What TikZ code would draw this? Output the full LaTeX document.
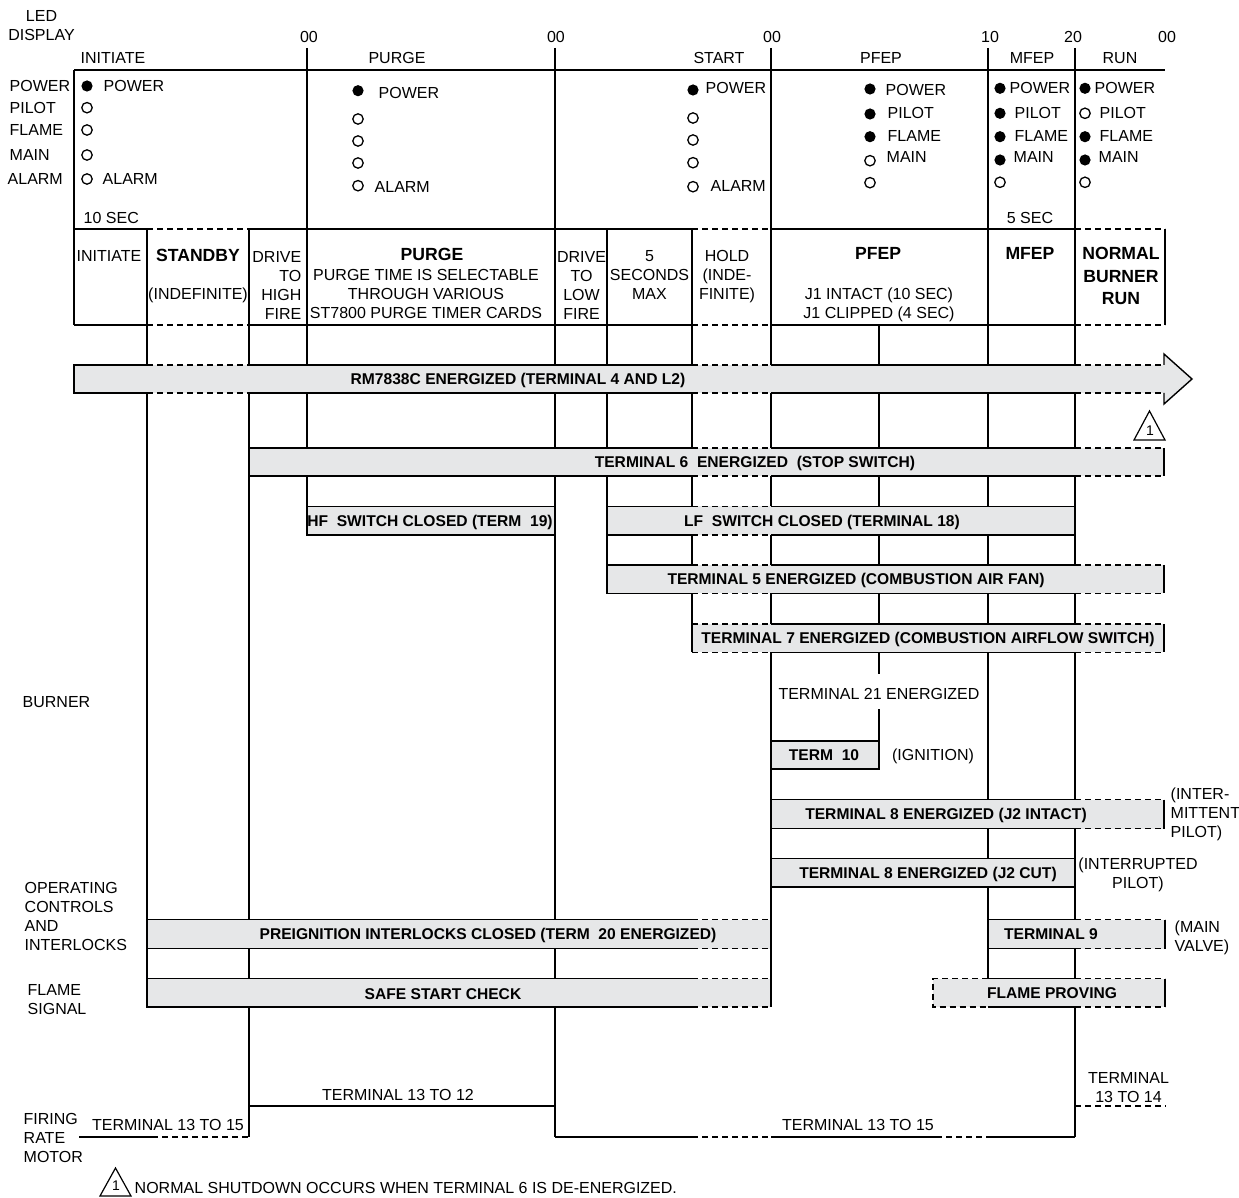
\documentclass[tikz,border=0pt]{standalone}
\usepackage{fontspec}
\setmainfont{Liberation Sans}
\definecolor{barfill}{HTML}{E6E7E8}

\begin{document}
\begin{tikzpicture}[
  x=0.5pt, y=-0.5pt,
  line width=0.7pt,
  txt/.style={font=\fontsize{8}{9.6}\selectfont, inner sep=0pt, text depth=0pt},
  ttxt/.style={font=\fontsize{8}{9.6}\selectfont, inner sep=0pt, align=center, anchor=north},
  btxt/.style={font=\fontsize{7.8}{9}\selectfont\bfseries, inner sep=0pt, text depth=0pt},
  htxt/.style={font=\fontsize{8.8}{11.2}\selectfont\bfseries, inner sep=0pt, text depth=0pt},
  dsh/.style={dash pattern=on 3pt off 2pt},
  ledon/.style={fill=black},
  ledoff/.style={draw=black, line width=0.65pt},
]
\useasboundingbox (0,0) rectangle (1239,1198);

% 时间刻度与阶段
\node[ttxt] (led) at (41.5,9.5) {LED\\DISPLAY};
\node[txt] (tick0) at (309,37) {00};
\node[txt] (tick1) at (556,37) {00};
\node[txt] (tick2) at (772,37) {00};
\node[txt] (tick3) at (990,37) {10};
\node[txt] (tick4) at (1073,37) {20};
\node[txt] (tick5) at (1167,37) {00};
\node[txt, anchor=west] (phinit) at (80,57.5) {INITIATE};
\node[txt] (phpurge) at (397,57.5) {PURGE};
\node[txt] (phstart) at (719,57.5) {START};
\node[txt] (phpfep) at (881,57.5) {PFEP};
\node[txt] (phmfep) at (1032,57.5) {MFEP};
\node[txt] (phrun) at (1120,57.5) {RUN};

% 网格竖线
\draw (74,70) -- (1165,70);
\draw (74,70) -- (74,325);
\draw (307,48) -- (307,506.5);
\draw (555,48) -- (555,1137);
\draw (771,48) -- (771,1007);
\draw (988,48) -- (988,978.5);
\draw (1075,48) -- (1075,1137);
\draw (147,229) -- (147,978.5);
\draw (249,229) -- (249,1137);
\draw (607,229) -- (607,593.5);
\draw (692,229) -- (692,652.5);
\draw (1165,229) -- (1165,325);
\draw (879,325) -- (879,674) (879,709) -- (879,741);

% 顺序表上下边 (虚线 = 不定时段)
\draw (74,229) -- (147,229) (249,229) -- (692,229) (771,229) -- (1075,229);
\draw (74,325) -- (147,325) (249,325) -- (692,325) (771,325) -- (1075,325);
\draw[dsh] (147,229) -- (249,229) (692,229) -- (771,229) (1075,229) -- (1165,229);
\draw[dsh] (147,325) -- (249,325) (692,325) -- (771,325) (1075,325) -- (1165,325);

% LED 指示
\node[txt, anchor=west] (lpower) at (9,86) {POWER};
\node[txt, anchor=west] (lpilot) at (9,107.7) {PILOT};
\node[txt, anchor=west] (lflame) at (9,130) {FLAME};
\node[txt, anchor=west] (lmain) at (9,155) {MAIN};
\node[txt, anchor=west] (lalarm) at (7,179) {ALARM};

% INITIATE
\fill[ledon] (87,86) circle (2.8pt);
\draw[ledoff] (87,107.7) circle (2.6pt) (87,130) circle (2.6pt) (87,155) circle (2.6pt) (87,179) circle (2.6pt);
\node[txt, anchor=west] (ipower) at (103,86) {POWER};
\node[txt, anchor=west] (ialarm) at (102,179) {ALARM};
% PURGE
\fill[ledon] (358,90.7) circle (2.8pt);
\draw[ledoff] (358,119) circle (2.6pt) (358,141) circle (2.6pt) (358,163) circle (2.6pt) (358,185.7) circle (2.6pt);
\node[txt, anchor=west] (ppower) at (378,92.7) {POWER};
\node[txt, anchor=west] (palarm) at (374,186.7) {ALARM};
% START
\fill[ledon] (693,90) circle (2.8pt);
\draw[ledoff] (693,118) circle (2.6pt) (693,140) circle (2.6pt) (693,162.7) circle (2.6pt) (693,186.7) circle (2.6pt);
\node[txt, anchor=west] (spower) at (705,88) {POWER};
\node[txt, anchor=west] (salarm) at (710,186) {ALARM};
% PFEP
\fill[ledon] (870,89) circle (2.8pt) (870,114) circle (2.8pt) (870,136.7) circle (2.8pt);
\draw[ledoff] (870,160.7) circle (2.6pt) (870,182.7) circle (2.6pt);
\node[txt, anchor=west] (fpower) at (885,90) {POWER};
\node[txt, anchor=west] (fpilot) at (887,112.7) {PILOT};
\node[txt, anchor=west] (fflame) at (887,136) {FLAME};
\node[txt, anchor=west] (fmain) at (886,156.7) {MAIN};
% MFEP
\fill[ledon] (1000,88.3) circle (2.8pt) (1000,113.3) circle (2.8pt) (1000,136.7) circle (2.8pt) (1000,160) circle (2.8pt);
\draw[ledoff] (1000,182.3) circle (2.6pt);
\node[txt, anchor=west] (mpower) at (1009,88.3) {POWER};
\node[txt, anchor=west] (mpilot) at (1014,112.7) {PILOT};
\node[txt, anchor=west] (mflame) at (1014,136) {FLAME};
\node[txt, anchor=west] (mmain) at (1013,156.7) {MAIN};
% RUN
\fill[ledon] (1085,88.3) circle (2.8pt) (1085,136.7) circle (2.8pt) (1085,160) circle (2.8pt);
\draw[ledoff] (1085,113.3) circle (2.6pt) (1085,182.3) circle (2.6pt);
\node[txt, anchor=west] (rpower) at (1094,88.3) {POWER};
\node[txt, anchor=west] (rpilot) at (1099,112.7) {PILOT};
\node[txt, anchor=west] (rflame) at (1099,136) {FLAME};
\node[txt, anchor=west] (rmain) at (1098,156.7) {MAIN};

\node[txt, anchor=west] (tensec) at (83,217.7) {10 SEC};
\node[txt] (fivesec) at (1030,217.7) {5 SEC};

% 顺序表内容
\node[txt] (cinit) at (109,256) {INITIATE};
\node[htxt] (cstandby) at (198,255) {STANDBY};
\node[txt] (cindef) at (198,294) {(INDEFINITE)};
\node[ttxt, align=right, anchor=north east] (chigh) at (302,250.3) {DRIVE\\TO\\HIGH\\FIRE};
\node[htxt] (cpurge) at (432,254) {PURGE};
\node[ttxt] (cpurgetxt) at (426,268.3) {PURGE TIME IS SELECTABLE\\THROUGH VARIOUS\\ST7800 PURGE TIMER CARDS};
\node[ttxt] (clow) at (581.5,250.3) {DRIVE\\TO\\LOW\\FIRE};
\node[ttxt] (cfive) at (649.5,249.3) {5\\SECONDS\\MAX};
\node[ttxt] (chold) at (727,249.3) {HOLD\\(INDE-\\FINITE)};
\node[htxt] (cpfep) at (878,253) {PFEP};
\node[ttxt] (cj1) at (879,287.3) {J1 INTACT (10 SEC)\\J1 CLIPPED (4 SEC)};
\node[htxt] (cmfep) at (1030,253) {MFEP};
\node[htxt, align=center, anchor=north, text depth=] (crun) at (1121,246.7) {NORMAL\\BURNER\\RUN};

% RM7838C 通电箭头
\fill[barfill] (74,365) rectangle (1164,393);
\fill[barfill] (1164,354) -- (1192,379) -- (1164,404) -- cycle;
\draw (147,365) -- (74,365) -- (74,393) -- (147,393);
\draw (249,365) -- (692,365) (249,393) -- (692,393) (771,365) -- (1075,365) (771,393) -- (1075,393);
\draw[dsh] (147,365) -- (249,365) (147,393) -- (249,393) (692,365) -- (771,365) (692,393) -- (771,393)
  (1075,365) -- (1164,365) (1075,393) -- (1164,393);
\draw (1164,365) -- (1164,354) -- (1192,379) -- (1164,404) -- (1164,393);
\node[btxt] (brm) at (518,379) {RM7838C ENERGIZED (TERMINAL 4 AND L2)};

% 注 1
\draw[line width=0.6pt] (1134,440) -- (1149.5,411) -- (1165,440) -- cycle;
\node[txt, font=\fontsize{7}{8}\selectfont] (note1a) at (1150,431) {1};

% 端子 6
\fill[barfill] (249,448) rectangle (1164,476);
\draw (692,448) -- (249,448) -- (249,476) -- (692,476);
\draw (771,448) -- (1075,448) (771,476) -- (1075,476);
\draw[dsh] (692,448) -- (771,448) (692,476) -- (771,476) (1075,448) -- (1164,448) (1075,476) -- (1164,476);
\draw (1164,448) -- (1164,476);
\node[btxt] (bt6) at (755,462) {TERMINAL 6\ \ ENERGIZED\ \ (STOP SWITCH)};

% HF / LF 开关
\draw[fill=barfill] (307,506.5) rectangle (555,535);
\node[btxt] (bhf) at (430,521) {HF\ \ SWITCH CLOSED (TERM\ \ 19)};
\fill[barfill] (607,506.5) rectangle (1075,535);
\draw (692,506.5) -- (607,506.5) -- (607,535) -- (692,535);
\draw (771,506.5) -- (1075,506.5) -- (1075,535) -- (771,535);
\draw[dsh] (692,506.5) -- (771,506.5) (692,535) -- (771,535);
\node[btxt] (blf) at (822,520.5) {LF\ \ SWITCH CLOSED (TERMINAL 18)};

% 端子 5
\fill[barfill] (607,565) rectangle (1164,593.5);
\draw (692,565) -- (607,565) -- (607,593.5) -- (692,593.5);
\draw (771,565) -- (1075,565) (771,593.5) -- (1075,593.5);
\draw[dsh] (692,565) -- (771,565) (692,593.5) -- (771,593.5) (1075,565) -- (1164,565) (1075,593.5) -- (1164,593.5);
\draw (1164,565) -- (1164,593.5);
\node[btxt] (bt5) at (856,579) {TERMINAL 5 ENERGIZED (COMBUSTION AIR FAN)};

% 端子 7
\fill[barfill] (692,624) rectangle (1164,652.5);
\draw (692,624) -- (692,652.5);
\draw (771,624) -- (1075,624) (771,652.5) -- (1075,652.5);
\draw[dsh] (692,624) -- (771,624) (692,652.5) -- (771,652.5) (1075,624) -- (1164,624) (1075,652.5) -- (1164,652.5);
\draw (1164,624) -- (1164,652.5);
\node[btxt] (bt7) at (928,638) {TERMINAL 7 ENERGIZED (COMBUSTION AIRFLOW SWITCH)};

% 端子 21 / 10
\node[txt] (t21) at (879,694) {TERMINAL 21 ENERGIZED};
\draw[fill=barfill] (771,741) rectangle (879,769);
\node[btxt] (bt10) at (824,755) {TERM\ \ 10};
\node[txt] (ign) at (933,755) {(IGNITION)};

% 端子 8
\fill[barfill] (771,799.5) rectangle (1164,828.5);
\draw (1075,799.5) -- (771,799.5) -- (771,828.5) -- (1075,828.5);
\draw[dsh] (1075,799.5) -- (1164,799.5) (1075,828.5) -- (1164,828.5);
\draw (1164,799.5) -- (1164,828.5);
\node[btxt] (bt8a) at (946,814) {TERMINAL 8 ENERGIZED (J2 INTACT)};
\node[ttxt, align=left, anchor=north west] (intpilot) at (1170,787.3) {(INTER-\\MITTENT\\PILOT)};
\draw[fill=barfill] (771,858.5) rectangle (1075,887);
\node[btxt] (bt8b) at (928,873) {TERMINAL 8 ENERGIZED (J2 CUT)};
\node[ttxt] (irpilot) at (1138,857.3) {(INTERRUPTED\\PILOT)};

% 联锁 / 端子 9
\fill[barfill] (147,919.5) rectangle (771,948.5);
\draw (692,919.5) -- (147,919.5) -- (147,948.5) -- (692,948.5);
\draw[dsh] (692,919.5) -- (771,919.5) (692,948.5) -- (771,948.5);
\draw (771,919.5) -- (771,948.5);
\node[btxt] (bpre) at (488,934) {PREIGNITION INTERLOCKS CLOSED (TERM\ \ 20 ENERGIZED)};
\fill[barfill] (988,919.5) rectangle (1165,948.5);
\draw (1075,919.5) -- (988,919.5) -- (988,948.5) -- (1075,948.5);
\draw[dsh] (1075,919.5) -- (1165,919.5) (1075,948.5) -- (1165,948.5);
\draw (1165,919.5) -- (1165,948.5);
\node[btxt] (bt9) at (1051,934) {TERMINAL 9};
\node[ttxt, align=left, anchor=north west] (mainv) at (1174,920.3) {(MAIN\\VALVE)};

% 火焰信号
\fill[barfill] (147,978.5) rectangle (771,1007);
\draw (692,978.5) -- (147,978.5) -- (147,1007) -- (692,1007);
\draw[dsh] (692,978.5) -- (771,978.5) (692,1007) -- (771,1007);
\draw (771,978.5) -- (771,1007);
\node[btxt] (bsafe) at (443,994) {SAFE START CHECK};
\fill[barfill] (933,978.5) rectangle (1165,1007);
\draw (988,978.5) -- (1075,978.5) (988,1007) -- (1075,1007);
\draw[dsh] (988,978.5) -- (933,978.5) -- (933,1007) -- (988,1007) (1075,978.5) -- (1165,978.5) (1075,1007) -- (1165,1007);
\draw (1165,978.5) -- (1165,1007);
\node[btxt] (bprove) at (1052,993) {FLAME PROVING};

% 调节电机
\draw (249,1106) -- (555,1106);
\node[txt] (t1312) at (398,1095) {TERMINAL 13 TO 12};
\draw (79,1137) -- (152,1137);
\draw[dsh] (152,1137) -- (249,1137);
\node[txt] (t1315a) at (168,1125) {TERMINAL 13 TO 15};
\draw (555,1137) -- (692,1137) (771,1137) -- (936,1137) (988,1137) -- (1075,1137);
\draw[dsh] (692,1137) -- (771,1137) (936,1137) -- (988,1137);
\node[txt] (t1315b) at (858,1125) {TERMINAL 13 TO 15};
\draw[dsh] (1075,1106) -- (1166,1106);
\node[ttxt] (t1314) at (1128.5,1071.3) {TERMINAL\\13 TO 14};

% 左侧标签
\node[txt, anchor=west] (burner) at (22,702) {BURNER};
\node[ttxt, align=left, anchor=north west] (opctl) at (24,881.3) {OPERATING\\CONTROLS\\AND\\INTERLOCKS};
\node[ttxt, align=left, anchor=north west] (flsig) at (27,983.3) {FLAME\\SIGNAL};
\node[ttxt, align=left, anchor=north west] (frm) at (23,1112.3) {FIRING\\RATE\\MOTOR};

% 底部注释
\draw[line width=0.6pt] (100,1196) -- (115.5,1168) -- (131,1196) -- cycle;
\node[txt, font=\fontsize{7}{8}\selectfont] (note1b) at (116,1186) {1};
\node[txt, anchor=west] (shutdown) at (134,1188) {NORMAL SHUTDOWN OCCURS WHEN TERMINAL 6 IS DE-ENERGIZED.};

\end{tikzpicture}
\end{document}
